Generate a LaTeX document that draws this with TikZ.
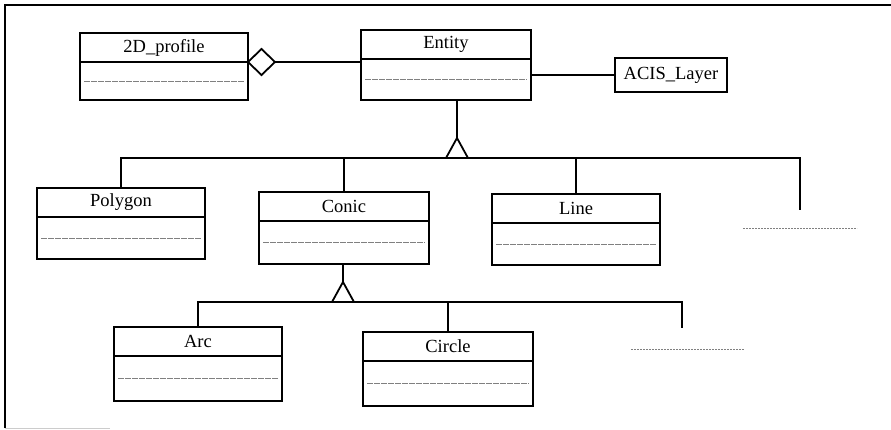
\documentclass[tikz,border=0pt]{standalone}
\usepackage{fontspec}
\setmainfont{Liberation Serif}
\usetikzlibrary{shapes.geometric, positioning}

\begin{document}
\begin{tikzpicture}[x=1pt, y=-1pt,
  classhead/.style={rectangle, minimum height=29pt, inner sep=0pt, outer sep=0pt, text centered, draw=black, line width=1.8pt, font=\fontsize{18.5}{22}\selectfont},
  classbody/.style={rectangle, minimum height=42pt, inner sep=0pt, outer sep=0pt, draw=black, line width=1.8pt, path picture={\draw [attrline] ([xshift=4pt]path picture bounding box.west) -- ([xshift=-4pt]path picture bounding box.east);}},
  plainbox/.style={rectangle, minimum width=112pt, minimum height=34pt, inner sep=0pt, outer sep=0pt, text centered, draw=black, line width=1.8pt, font=\fontsize{18.5}{22}\selectfont},
  attrline/.style={draw=gray, line width=0.7pt, dash pattern=on 6pt off 1pt},
  moreline/.style={draw=gray, line width=0.7pt, dash pattern=on 2pt off 1pt},
  aggr/.style={diamond, minimum width=27pt, minimum height=26pt, inner sep=0pt, outer sep=0pt, draw=black, line width=1.8pt, fill=white},
  gentri/.style={isosceles triangle, shape border rotate=90, isosceles triangle stretches, minimum width=22pt, minimum height=20pt, inner sep=0pt, outer sep=0pt, draw=black, line width=1.8pt, fill=white},
  link/.style={line width=1.8pt}]

  \useasboundingbox (0,0) rectangle (891,429);

  % Frame
  \draw [line width=1.5pt] (5,428) -- (5,5) -- (891,5);
  \draw [gray!40, line width=0.8pt] (5,428) -- (110,428);

  % Nodes
  \node (profilehead) [classhead, minimum width=168pt, anchor=north] at (164,33) {2D\_profile};
  \node (profilebody) [classbody, minimum width=168pt, minimum height=38pt, below=0pt of profilehead] {};
  \node (entityhead) [classhead, minimum width=170pt, anchor=north] at (446,30) {Entity};
  \node (entitybody) [classbody, minimum width=170pt, minimum height=41pt, below=0pt of entityhead] {};
  \node (acis) [plainbox] at (671,75) {ACIS\_Layer};
  \node (agg) [aggr, anchor=west] at (profilehead.south east) {};

  \node (polyhead) [classhead, minimum width=168pt, anchor=north] at (121,188) {Polygon};
  \node (polybody) [classbody, minimum width=168pt, below=0pt of polyhead] {};
  \node (conichead) [classhead, minimum width=170pt, anchor=north] at (344,192) {Conic};
  \node (conicbody) [classbody, minimum width=170pt, minimum height=43pt, below=0pt of conichead] {};
  \node (linehead) [classhead, minimum width=168pt, anchor=north] at (576,194) {Line};
  \node (linebody) [classbody, minimum width=168pt, below=0pt of linehead] {};
  \coordinate (more1) at (800,210);
  \draw [moreline] (743,228) -- (857,228);

  \node (archead) [classhead, minimum width=168pt, anchor=north] at (198,327) {Arc};
  \node (arcbody) [classbody, minimum width=168pt, minimum height=45pt, below=0pt of archead] {};
  \node (circlehead) [classhead, minimum width=170pt, anchor=north] at (448,332) {Circle};
  \node (circlebody) [classbody, minimum width=170pt, minimum height=45pt, below=0pt of circlehead] {};
  \coordinate (more2) at (682,328);
  \draw [moreline] (631,349) -- (744,349);

  % Arrows
  \draw [link] (agg.east) -- (agg.east -| entityhead.west);
  \draw [link] (acis.west) -- (acis.west -| entitybody.east);

  \node (gen1) [gentri, anchor=lower side] at (457,158) {};
  \draw [link] (entitybody.south -| gen1.apex) -- (gen1.apex);
  \draw [link] (polyhead.north) |- (gen1.lower side) -| (more1);
  \draw [link] (conichead.north) -- (conichead.north |- gen1.lower side);
  \draw [link] (linehead.north) -- (linehead.north |- gen1.lower side);

  \node (gen2) [gentri, anchor=lower side] at (343,302) {};
  \draw [link] (conicbody.south -| gen2.apex) -- (gen2.apex);
  \draw [link] (archead.north) |- (gen2.lower side) -| (more2);
  \draw [link] (circlehead.north) -- (circlehead.north |- gen2.lower side);

\end{tikzpicture}
\end{document}
